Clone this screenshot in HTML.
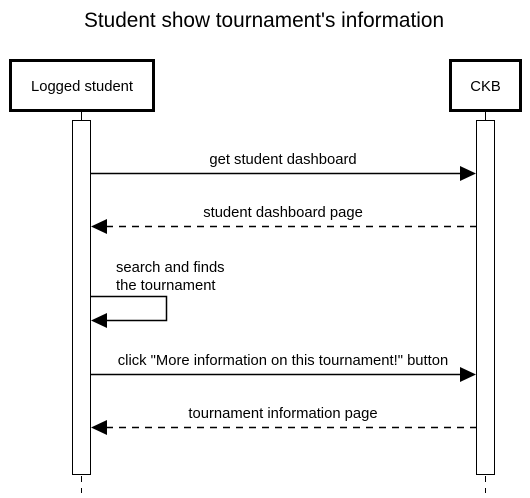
<!DOCTYPE html>
<html><head><meta charset="utf-8"><style>body{margin:0;background:#fff}</style></head><body>
<svg width="530" height="493" xmlns="http://www.w3.org/2000/svg" font-family="Liberation Sans, Arial, sans-serif">
<rect width="530" height="493" fill="#fff"/>
<text x="264" y="27" font-size="20.8" text-anchor="middle">Student show tournament's information</text>
<rect x="10.5" y="60.5" width="143" height="50" fill="#fff" stroke="#000" stroke-width="3"/>
<text x="82" y="91" font-size="14.8" text-anchor="middle">Logged student</text>
<rect x="450.5" y="60.5" width="70" height="50" fill="#fff" stroke="#000" stroke-width="3"/>
<text x="485.5" y="91" font-size="14.8" text-anchor="middle">CKB</text>
<line x1="81.5" y1="111" x2="81.5" y2="120" stroke="#000"/>
<line x1="485.5" y1="111" x2="485.5" y2="120" stroke="#000"/>
<line x1="81.5" y1="476" x2="81.5" y2="493" stroke="#000" stroke-dasharray="6,6"/>
<line x1="485.5" y1="476" x2="485.5" y2="493" stroke="#000" stroke-dasharray="6,6"/>
<rect x="72.5" y="120.5" width="18" height="354" fill="#fff" stroke="#000"/>
<rect x="476.5" y="120.5" width="18" height="354" fill="#fff" stroke="#000"/>
<g stroke="#000" stroke-width="1.5" fill="none">
<line x1="91" y1="173.5" x2="462" y2="173.5"/>
<line x1="106" y1="226.5" x2="476" y2="226.5" stroke-dasharray="7,6"/>
<polyline points="91,296.5 166.5,296.5 166.5,320.5 106,320.5"/>
<line x1="91" y1="374.5" x2="462" y2="374.5"/>
<line x1="106" y1="427.5" x2="476" y2="427.5" stroke-dasharray="7,6"/>
</g>
<g fill="#000">
<polygon points="476,173.5 460,166 460,181"/>
<polygon points="91,226.5 107,219 107,234"/>
<polygon points="91,320.5 107,313 107,328"/>
<polygon points="476,374.5 460,367 460,382"/>
<polygon points="91,427.5 107,420 107,435"/>
</g>
<g font-size="14.8" text-anchor="middle">
<text x="283" y="164">get student dashboard</text>
<text x="283" y="217">student dashboard page</text>
<text x="283" y="365">click "More information on this tournament!" button</text>
<text x="283" y="418">tournament information page</text>
</g>
<text x="116" y="272" font-size="14.8">search and finds</text>
<text x="116" y="290" font-size="14.8">the tournament</text>
</svg>
</body></html>
